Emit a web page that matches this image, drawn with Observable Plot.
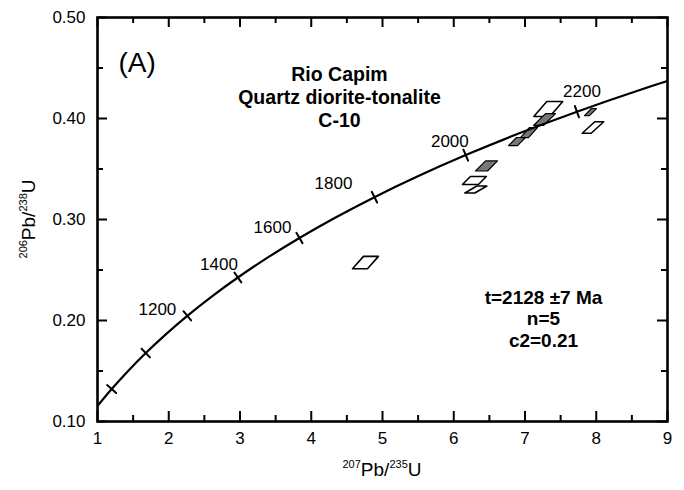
<!DOCTYPE html>
<html><head><meta charset="utf-8">
<script src="https://cdn.jsdelivr.net/npm/d3@7"></script>
<script src="https://cdn.jsdelivr.net/npm/@observablehq/plot@0.6"></script>
<style>
body{margin:0;background:#fff;}
svg{font-family:"Liberation Sans",Arial,Helvetica,sans-serif;}
</style>
</head><body><div id="chart"></div>
<script>
// Concordia reference curve (age in Ma, 207Pb/235U, 206Pb/238U)
const concordiaAge = [700,800,900,1000,1100,1200,1300,1400,1500,1600,1700,1800,1900,2000,2100,2200,2300,2400];
const concordiaX = [0.99248,1.19873,1.42629,1.67741,1.95452,2.26030,2.59773,2.97010,3.38098,3.83438,4.33479,4.88688,5.49616,6.16846,6.91045,7.72912,8.63264,9.62963];
const concordiaY = [0.11470,0.13213,0.14983,0.16780,0.18606,0.20460,0.22344,0.24256,0.26199,0.28172,0.30175,0.32210,0.34277,0.36377,0.38509,0.40674,0.42873,0.45107];
const tickAges = [800,1000,1200,1400,1600,1800,2000,2200];
const labelAges = [1200,1400,1600,1800,2000,2200];

// Zircon analyses (error boxes): centre, half-width in x, skew of box, half-height in y
const spotX     = [4.761, 6.290, 6.310, 7.327, 7.954, 6.460, 6.888, 7.056, 7.274, 7.919];
const spotY     = [0.2574,0.3386,0.3297,0.4094,0.3911,0.3530,0.3772,0.3861,0.3990,0.4064];
const spotHalfX = [0.105, 0.112, 0.070, 0.112, 0.063, 0.084, 0.063, 0.056, 0.070, 0.035];
const spotSkew  = [0.077, 0.056, 0.084, 0.091, 0.088, 0.070, 0.056, 0.063, 0.084, 0.049];
const spotHalfY = [0.0061,0.0040,0.0035,0.0074,0.0057,0.0050,0.0040,0.0050,0.0059,0.0035];
const spotUsed  = [false, false, false, false, false, true, true, true, true, true];

const xTicks = [1,2,3,4,5,6,7,8,9];
const xMinorTicks = [1.5,2.5,3.5,4.5,5.5,6.5,7.5,8.5];
const yTicks = [0.1,0.2,0.3,0.4,0.5];
const yMinorTicks = [0.15,0.25,0.35,0.45];
const panelLabel = "(A)";
const titleLines = ["Rio Capim","Quartz diorite-tonalite","C-10"];
const statLines = ["t=2128 \u00b17 Ma","n=5","c2=0.21"];

// layout
const W = 684, H = 490, mL = 97, mR = 17, mT = 17, mB = 69;
const innerW = W - mL - mR, innerH = H - mT - mB;
const xDomain = [1, 9], yDomain = [0.1, 0.5];
const kx = innerW / (xDomain[1] - xDomain[0]);
const ky = innerH / (yDomain[1] - yDomain[0]);

const curve = concordiaAge.map((a, i) => ({age: a, x: concordiaX[i], y: concordiaY[i]}));
const ticks = tickAges.map(a => {
  const i = concordiaAge.indexOf(a);
  const dx = concordiaX[i + 1] - concordiaX[i - 1];
  const dy = concordiaY[i + 1] - concordiaY[i - 1];
  const r = Math.atan(-dy * ky / (dx * kx)) * 180 / Math.PI;
  return {age: a, x: concordiaX[i], y: concordiaY[i], r};
});
const labelOffsets = {1200: [-11, -6], 1400: [0, -13], 1600: [-8, -10], 1800: [-22, -14], 2000: [3, -14], 2200: [24, -20]};

const boxes = [];
spotX.forEach((x, i) => {
  const y = spotY[i], hx = spotHalfX[i], k = spotSkew[i], hy = spotHalfY[i];
  [[x + k - hx, y + hy], [x + k + hx, y + hy], [x - k + hx, y - hy], [x - k - hx, y - hy]]
    .forEach(([px, py]) => boxes.push({id: i, used: spotUsed[i], x: px, y: py}));
});

const tickShape = {draw(context, l) { context.moveTo(0, 0); context.lineTo(0, -l); }};

const marks = [
  Plot.line(boxes.filter(d => !d.used), {x: "x", y: "y", z: "id", curve: "linear-closed", fill: "white", stroke: "black", strokeWidth: 1.6}),
  Plot.line(boxes.filter(d => d.used), {x: "x", y: "y", z: "id", curve: "linear-closed", fill: "#777", stroke: "black", strokeWidth: 1.2}),
  Plot.line(curve, {x: "x", y: "y", curve: "catmull-rom", stroke: "black", strokeWidth: 2.2, clip: true}),
  Plot.vector(ticks, {x: "x", y: "y", rotate: "r", length: 12, anchor: "middle", shape: tickShape, stroke: "black", strokeWidth: 2}),
  ...labelAges.map(a => {
    const i = concordiaAge.indexOf(a);
    return Plot.text([{x: concordiaX[i], y: concordiaY[i], t: String(a)}],
      {x: "x", y: "y", text: "t", dx: labelOffsets[a][0], dy: labelOffsets[a][1], textAnchor: "end", fontSize: 17, fill: "black"});
  }),
  Plot.tickX(xTicks, {x: d => d, insetTop: innerH - 10, strokeWidth: 2}),
  Plot.tickX(xTicks, {x: d => d, insetBottom: innerH - 10, strokeWidth: 2}),
  Plot.tickX(xMinorTicks, {x: d => d, insetTop: innerH - 6, strokeWidth: 2}),
  Plot.tickX(xMinorTicks, {x: d => d, insetBottom: innerH - 6, strokeWidth: 2}),
  Plot.tickY(yTicks, {y: d => d, insetRight: innerW - 10, strokeWidth: 2}),
  Plot.tickY(yTicks, {y: d => d, insetLeft: innerW - 10, strokeWidth: 2}),
  Plot.tickY(yMinorTicks, {y: d => d, insetRight: innerW - 6, strokeWidth: 2}),
  Plot.tickY(yMinorTicks, {y: d => d, insetLeft: innerW - 6, strokeWidth: 2}),
  Plot.frame({stroke: "black", strokeWidth: 2.6}),
  Plot.axisX({ticks: xTicks, tickSize: 0, tickPadding: 10, tickFormat: d => String(d), fontSize: 17, label: null}),
  Plot.axisY({ticks: yTicks, tickSize: 0, tickPadding: 12, tickFormat: d => d.toFixed(2), fontSize: 17, label: null}),
  Plot.text([panelLabel], {frameAnchor: "top-left", dx: 21, dy: 35, textAnchor: "start", lineAnchor: "top", fontSize: 28, fill: "black"}),
  Plot.text([titleLines.join("\n")], {frameAnchor: "top-left", dx: 242, dy: 47, textAnchor: "middle", lineAnchor: "top", lineHeight: 23 / 19.5, fontSize: 19.5, fontWeight: "bold", fill: "black"}),
  Plot.text([statLines.join("\n")], {frameAnchor: "top-left", dx: 446, dy: 271, textAnchor: "middle", lineAnchor: "top", lineHeight: 21.5 / 19, fontSize: 19, fontWeight: "bold", fill: "black"})
];

const chart = Plot.plot({
  width: W, height: H,
  marginLeft: mL, marginRight: mR, marginTop: mT, marginBottom: mB,
  x: {domain: xDomain},
  y: {domain: yDomain},
  style: {fontFamily: "'Liberation Sans', Arial, sans-serif", color: "black", background: "white"},
  marks
});
document.getElementById("chart").appendChild(chart);

const svg = d3.select(chart);
function isotopeTitle(sel, a, b, c, d, big, small) {
  sel.append("tspan").attr("font-size", small).attr("dy", -8).text(a);
  sel.append("tspan").attr("font-size", big).attr("dy", 8).text(b);
  sel.append("tspan").attr("font-size", small).attr("dy", -8).text(c);
  sel.append("tspan").attr("font-size", big).attr("dy", 8).text(d);
}
const xt = svg.append("text").attr("x", mL + innerW / 2).attr("y", 476).attr("text-anchor", "middle").attr("fill", "black");
isotopeTitle(xt, "207", "Pb/", "235", "U", 19, 11);
const yt = svg.append("text").attr("transform", `translate(35,${mT + innerH / 2}) rotate(-90)`).attr("text-anchor", "middle").attr("fill", "black");
isotopeTitle(yt, "206", "Pb/", "238", "U", 19, 11);
</script>
</body></html>
